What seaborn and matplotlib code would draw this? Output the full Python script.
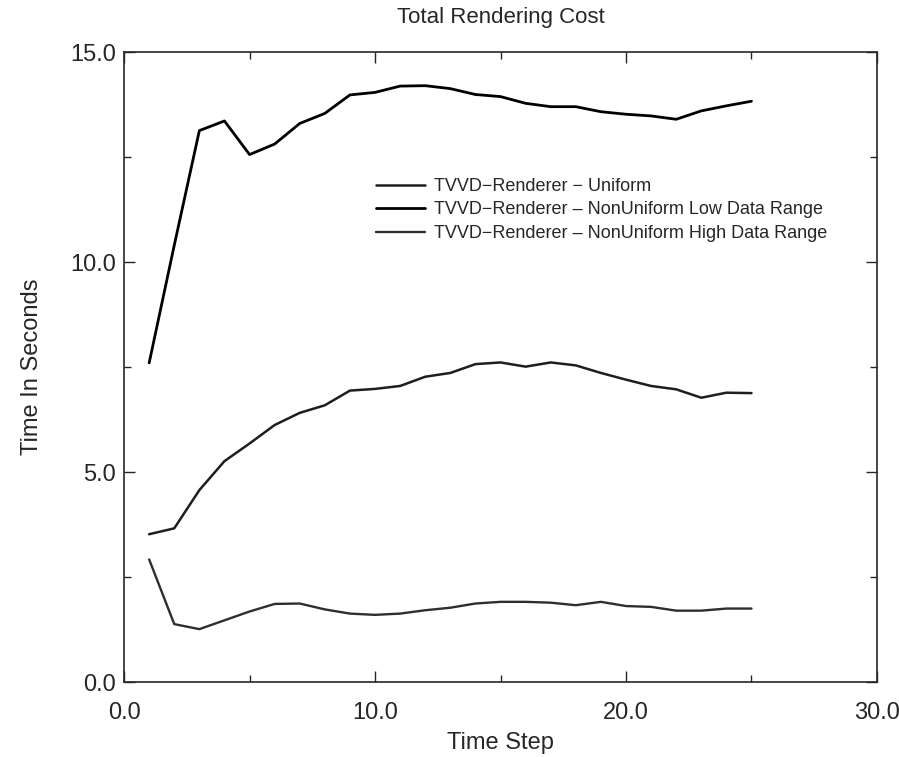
import numpy as np
import pandas as pd
import seaborn as sns
import matplotlib.pyplot as plt
from matplotlib.ticker import MultipleLocator, FormatStrFormatter

# veriler
time_step = list(range(1, 26))
uniform = [3.52, 3.66, 4.57, 5.26, 5.68, 6.12, 6.41, 6.59, 6.94, 6.98,
           7.05, 7.27, 7.36, 7.57, 7.61, 7.51, 7.61, 7.54, 7.36, 7.20,
           7.05, 6.97, 6.77, 6.89, 6.88]
nonuniform_low = [7.60, 10.40, 13.13, 13.36, 12.56, 12.81, 13.30, 13.54, 13.98, 14.04,
                  14.19, 14.20, 14.13, 13.99, 13.94, 13.78, 13.70, 13.70, 13.58, 13.52,
                  13.48, 13.40, 13.60, 13.72, 13.83]
nonuniform_high = [2.92, 1.38, 1.26, 1.47, 1.68, 1.86, 1.87, 1.73, 1.63, 1.60,
                   1.63, 1.71, 1.77, 1.87, 1.91, 1.91, 1.89, 1.83, 1.91, 1.81,
                   1.79, 1.70, 1.70, 1.75, 1.75]
labels = ["TVVD\u2212Renderer \u2212 Uniform",
          "TVVD\u2212Renderer \u2013 NonUniform Low Data Range",
          "TVVD\u2212Renderer \u2013 NonUniform High Data Range"]

df = pd.DataFrame({"step": time_step,
                   "uniform": uniform,
                   "low": nonuniform_low,
                   "high": nonuniform_high})

sns.set_style("ticks")
plt.rcParams['font.family'] = ['Liberation Sans', 'DejaVu Sans']

fig = plt.figure(figsize=(8.99, 7.57), dpi=100)
ax = fig.add_axes([0.138, 0.099, 0.8375, 0.8322])

sns.lineplot(data=df, x="step", y="uniform", ax=ax, color="#1e1e1e", linewidth=1.8, label=labels[0])
sns.lineplot(data=df, x="step", y="low", ax=ax, color="black", linewidth=2.0, label=labels[1])
sns.lineplot(data=df, x="step", y="high", ax=ax, color="#2e2e2e", linewidth=1.7, label=labels[2])

# eksenler
ax.set_xlim(0, 30)
ax.set_ylim(0, 15)
ax.xaxis.set_major_locator(MultipleLocator(10))
ax.xaxis.set_minor_locator(MultipleLocator(5))
ax.yaxis.set_major_locator(MultipleLocator(5))
ax.yaxis.set_minor_locator(MultipleLocator(2.5))
ax.xaxis.set_major_formatter(FormatStrFormatter("%.1f"))
ax.yaxis.set_major_formatter(FormatStrFormatter("%.1f"))
ax.tick_params(which="both", direction="in", top=True, right=True, width=1.0)
ax.tick_params(which="major", length=8, labelsize=17)
ax.tick_params(axis="x", which="major", pad=14)
ax.tick_params(axis="y", which="major", pad=6)
ax.tick_params(which="minor", length=5)
for s in ax.spines.values():
    s.set_linewidth(1.2)

ax.set_xlabel("Time Step", fontsize=17, labelpad=6)
ax.set_ylabel("Time In Seconds", fontsize=17, labelpad=19)
ax.set_title("Total Rendering Cost", fontsize=16, pad=21)

ax.legend(loc="upper left", bbox_to_anchor=(376 / 899, 1 - 178 / 757),
          bbox_transform=fig.transFigure, frameon=False, fontsize=13,
          handlelength=2.7, handletextpad=0.5, labelspacing=0.36,
          borderpad=0, borderaxespad=0)

plt.savefig("out.png", dpi=100)
